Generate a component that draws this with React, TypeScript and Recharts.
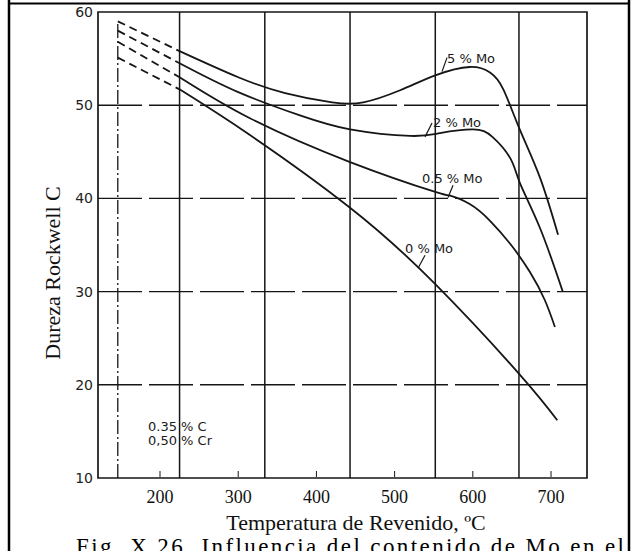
import { ComposedChart, Line, XAxis, YAxis, ReferenceLine, ReferenceArea } from "recharts";

// temperature (ºC) / hardness (HRC)
const T_MIN = 120.7;
const T_MAX = 746;
const X_TICKS = [200, 300, 400, 500, 600, 700];
const Y_TICKS = [10, 20, 30, 40, 50, 60];
const GRID_T = [225, 334, 443, 552, 659];
const GRID_HRC = [20, 30, 40, 50];
const START_T = 146;

// extrapolated (dashed) part, 146 -> 225 ºC
const DASH_T = [146, 225];
const MO5_DASH = [59.0, 55.8];
const MO2_DASH = [58.0, 54.5];
const MO05_DASH = [56.8, 53.0];
const MO0_DASH = [55.1, 51.7];

// measured part
const MO5_T = [225, 300, 360, 420, 460, 507, 552, 596, 622, 639, 660, 686, 709];
const MO5_HRC = [55.8, 53.0, 51.3, 50.3, 50.3, 51.6, 53.2, 54.1, 53.5, 51.7, 47.4, 42.2, 36.1];
const MO2_T = [225, 300, 379, 443, 520, 558, 600, 625, 648, 660, 686, 715];
const MO2_HRC = [54.5, 51.4, 48.9, 47.4, 46.7, 47.0, 47.4, 46.6, 44.3, 41.7, 36.8, 30.0];
const MO05_T = [225, 315, 443, 552, 571, 596, 622, 648, 673, 692, 705];
const MO05_HRC = [53.0, 48.6, 43.9, 40.7, 40.3, 39.4, 37.6, 35.1, 32.1, 29.1, 26.2];
const MO0_T = [225, 315, 443, 552, 660, 708];
const MO0_HRC = [51.7, 46.8, 39.0, 30.8, 21.1, 16.2];

// label leader lines [t1, hrc1, t2, hrc2]
const LEADERS = [
  [560.6, 53.6, 567.0, 55.1],
  [538.9, 46.6, 547.8, 48.1],
  [568.3, 40.1, 574.7, 41.4],
  [529.9, 32.5, 538.9, 33.9],
];

const INK = "#161616";
const SANS = "'DejaVu Sans', sans-serif";
const SERIF = "'Liberation Serif', 'Times New Roman', serif";

const pts = (ts: number[], vs: number[]) => ts.map((t, i) => ({ t, v: vs[i] }));

const dashed = [MO5_DASH, MO2_DASH, MO05_DASH, MO0_DASH].map((v) => pts(DASH_T, v));
const solid = [
  pts(MO5_T, MO5_HRC),
  pts(MO2_T, MO2_HRC),
  pts(MO05_T, MO05_HRC),
  pts(MO0_T, MO0_HRC),
];

function XTick({ x, y, payload }: any) {
  return (
    <g>
      <line x1={x} x2={x} y1={y - 1} y2={y - 7} stroke={INK} strokeWidth={1} />
      <text x={x} y={y + 25} textAnchor="middle" fontFamily={SERIF} fontSize={18} fill="#111">
        {payload.value}
      </text>
    </g>
  );
}

function YTick({ x, y, payload }: any) {
  return (
    <text x={x - 5} y={y + 5} textAnchor="end" fontFamily={SANS} fontSize={14} fill="#222">
      {payload.value}
    </text>
  );
}

export default function App() {
  return (
    <div
      style={{
        position: "absolute",
        left: 0,
        top: 0,
        width: 637,
        height: 551,
        overflow: "hidden",
        background: "#fff",
      }}
    >
      <ComposedChart width={637} height={551} margin={{ top: 12, right: 50, bottom: 33, left: 38 }}>
        <XAxis
          dataKey="t"
          type="number"
          domain={[T_MIN, T_MAX]}
          ticks={X_TICKS}
          allowDataOverflow
          axisLine={false}
          tickLine={false}
          tickSize={0}
          tickMargin={0}
          height={40}
          tick={<XTick />}
        />
        <YAxis
          type="number"
          domain={[10, 60]}
          ticks={Y_TICKS}
          allowDataOverflow
          axisLine={false}
          tickLine={false}
          tickSize={0}
          tickMargin={0}
          width={60}
          tick={<YTick />}
        />
        {GRID_HRC.map((v) => (
          <ReferenceLine key={"h" + v} y={v} stroke={INK} strokeWidth={1.4} strokeDasharray="44 7" />
        ))}
        {GRID_T.map((t) => (
          <ReferenceLine key={"v" + t} x={t} stroke={INK} strokeWidth={1.5} />
        ))}
        <ReferenceLine
          segment={[
            { x: START_T, y: 10 },
            { x: START_T, y: MO5_DASH[0] },
          ]}
          stroke={INK}
          strokeWidth={1.3}
          strokeDasharray="14 3 2 3"
        />
        <ReferenceArea x1={T_MIN} x2={T_MAX} y1={10} y2={60} fill="none" stroke={INK} strokeWidth={1.7} />
        {LEADERS.map((l, i) => (
          <ReferenceLine
            key={"l" + i}
            segment={[
              { x: l[0], y: l[1] },
              { x: l[2], y: l[3] },
            ]}
            stroke={INK}
            strokeWidth={1.2}
          />
        ))}
        {dashed.map((d, i) => (
          <Line
            key={"d" + i}
            data={d}
            dataKey="v"
            type="linear"
            dot={false}
            stroke={INK}
            strokeWidth={1.8}
            strokeDasharray="8 5"
            isAnimationActive={false}
          />
        ))}
        {solid.map((d, i) => (
          <Line
            key={"s" + i}
            data={d}
            dataKey="v"
            type="natural"
            dot={false}
            stroke={INK}
            strokeWidth={1.8}
            isAnimationActive={false}
          />
        ))}
      </ComposedChart>

      <svg
        width={637}
        height={551}
        style={{ position: "absolute", left: 0, top: 0, pointerEvents: "none" }}
      >
        <g fontFamily={SANS} fontSize={13} fill="#1a1a1a">
          <text x={447} y={63}>5 % Mo</text>
          <text x={433} y={127}>2 % Mo</text>
          <text x={422} y={183}>0.5 % Mo</text>
          <text x={405} y={253}>0 % Mo</text>
          <text x={148} y={431}>0.35 % C</text>
          <text x={148} y={445}>0,50 % Cr</text>
        </g>
        <text
          x={60}
          y={273}
          transform="rotate(-90 60 273)"
          textAnchor="middle"
          fontFamily={SERIF}
          fontSize={22}
          fill="#111"
        >
          Dureza Rockwell C
        </text>
        <text x={356} y={530} textAnchor="middle" fontFamily={SERIF} fontSize={22} fill="#111">
          Temperatura de Revenido, ºC
        </text>
        <text
          x={76}
          y={554}
          fontFamily={SERIF}
          fontSize={23}
          fill="#000"
          textLength={548}
          lengthAdjust="spacing"
        >
          Fig. X.26. Influencia del contenido de Mo en el
        </text>
        <line x1={8} x2={630} y1={3.5} y2={3.5} stroke="#000" strokeWidth={2} />
        <line x1={9} x2={9} y1={0} y2={551} stroke="#000" strokeWidth={2.5} />
        <line x1={629} x2={629} y1={0} y2={551} stroke="#000" strokeWidth={2.5} />
      </svg>
    </div>
  );
}
